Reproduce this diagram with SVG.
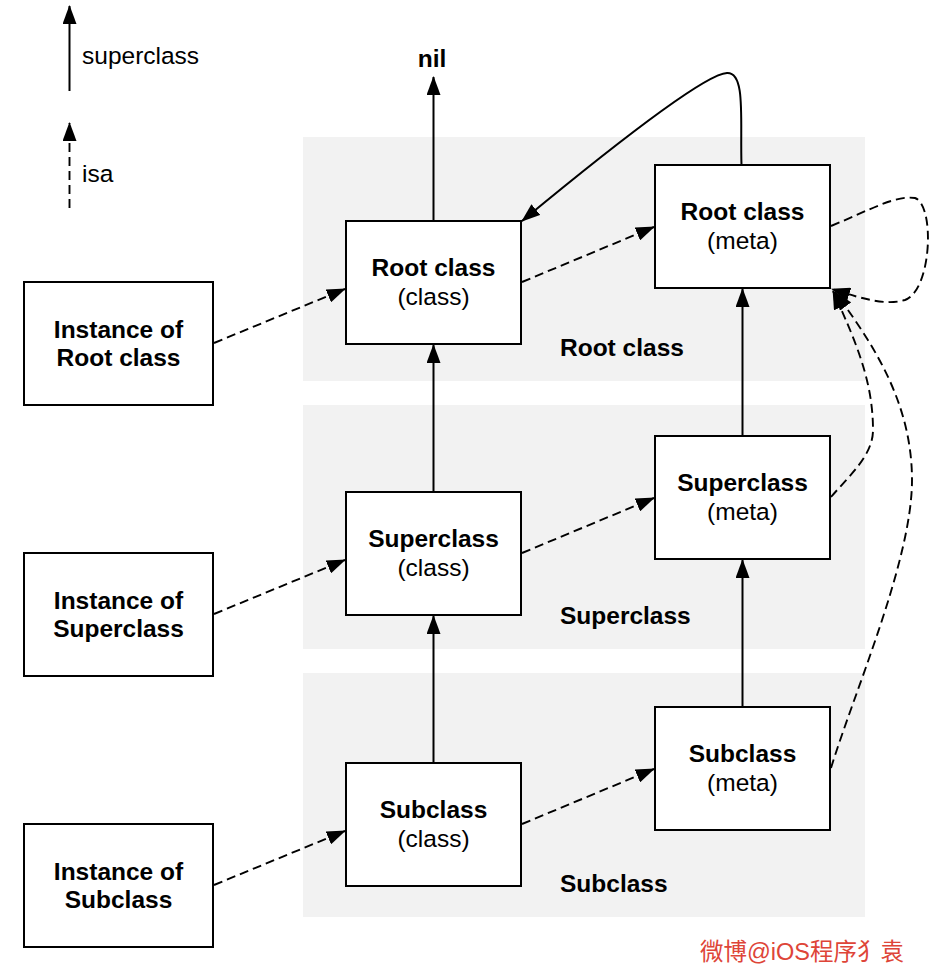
<svg xmlns="http://www.w3.org/2000/svg" width="933" height="977" viewBox="0 0 933 977">
<defs>
<marker id="ah" markerUnits="userSpaceOnUse" markerWidth="19" markerHeight="14" refX="18" refY="7" orient="auto" viewBox="0 0 19 14">
<path d="M0,0 L19,7 L0,14 z" fill="#000"/>
</marker>
</defs>
<style>
.panel{fill:#f2f2f2;}
.box{fill:#fff;stroke:#000;stroke-width:2;}
.b{font-family:"Liberation Sans",Arial,sans-serif;font-weight:bold;font-size:24.5px;fill:#000;}
.r{font-family:"Liberation Sans",Arial,sans-serif;font-size:24.5px;fill:#000;}
.sup{fill:none;stroke:#000;stroke-width:2;marker-end:url(#ah);}
.isa{fill:none;stroke:#000;stroke-width:1.9;stroke-dasharray:9,5;marker-end:url(#ah);}
.wm{font-family:"Liberation Sans","Noto Sans CJK SC",sans-serif;font-size:23.5px;fill:#de4538;}
</style>
<rect width="933" height="977" fill="#fff"/>
<g id="panels">
<rect class="panel" x="303" y="137" width="562" height="244"/>
<rect class="panel" x="303" y="405" width="562" height="244"/>
<rect class="panel" x="303" y="673" width="562" height="244"/>
<text class="b" x="560" y="356">Root class</text>
<text class="b" x="560" y="624">Superclass</text>
<text class="b" x="560" y="892">Subclass</text>
</g>
<g id="legend">
<line class="sup" x1="69.5" y1="91" x2="69.5" y2="6"/>
<text class="r" x="82" y="64">superclass</text>
<line class="isa" x1="69.5" y1="208" x2="69.5" y2="123"/>
<text class="r" x="82" y="182">isa</text>
</g>
<g id="nil"><text class="b" x="432" y="67" text-anchor="middle">nil</text></g>
<g id="inst-root">
<rect class="box" x="24" y="282" width="189" height="123"/>
<text class="b" x="118.5" y="337.5" text-anchor="middle">Instance of</text>
<text class="b" x="118.5" y="365.5" text-anchor="middle">Root class</text>
</g>
<g id="inst-super">
<rect class="box" x="24" y="553" width="189" height="123"/>
<text class="b" x="118.5" y="608.5" text-anchor="middle">Instance of</text>
<text class="b" x="118.5" y="636.5" text-anchor="middle">Superclass</text>
</g>
<g id="inst-sub">
<rect class="box" x="24" y="824" width="189" height="123"/>
<text class="b" x="118.5" y="879.5" text-anchor="middle">Instance of</text>
<text class="b" x="118.5" y="907.5" text-anchor="middle">Subclass</text>
</g>
<g id="root-class">
<rect class="box" x="346" y="221" width="175" height="123"/>
<text class="b" x="433.5" y="276" text-anchor="middle">Root class</text>
<text class="r" x="433.5" y="305" text-anchor="middle">(class)</text>
</g>
<g id="super-class">
<rect class="box" x="346" y="492" width="175" height="123"/>
<text class="b" x="433.5" y="547" text-anchor="middle">Superclass</text>
<text class="r" x="433.5" y="576" text-anchor="middle">(class)</text>
</g>
<g id="sub-class">
<rect class="box" x="346" y="763" width="175" height="123"/>
<text class="b" x="433.5" y="818" text-anchor="middle">Subclass</text>
<text class="r" x="433.5" y="847" text-anchor="middle">(class)</text>
</g>
<g id="root-meta">
<rect class="box" x="655" y="165" width="175" height="123"/>
<text class="b" x="742.5" y="220" text-anchor="middle">Root class</text>
<text class="r" x="742.5" y="249" text-anchor="middle">(meta)</text>
</g>
<g id="super-meta">
<rect class="box" x="655" y="436" width="175" height="123"/>
<text class="b" x="742.5" y="491" text-anchor="middle">Superclass</text>
<text class="r" x="742.5" y="520" text-anchor="middle">(meta)</text>
</g>
<g id="sub-meta">
<rect class="box" x="655" y="707" width="175" height="123"/>
<text class="b" x="742.5" y="762" text-anchor="middle">Subclass</text>
<text class="r" x="742.5" y="791" text-anchor="middle">(meta)</text>
</g>
<g id="connectors">
<line class="sup" x1="433.5" y1="220" x2="433.5" y2="77"/>
<line class="sup" x1="433.5" y1="491" x2="433.5" y2="345"/>
<line class="sup" x1="433.5" y1="762" x2="433.5" y2="616"/>
<line class="sup" x1="742.5" y1="435" x2="742.5" y2="289"/>
<line class="sup" x1="742.5" y1="706" x2="742.5" y2="560"/>
<path class="sup" d="M741.5,165 C740,120 746,72 727,73 C705,74 620,140 522,221"/>
<line class="isa" x1="214" y1="343" x2="345" y2="289"/>
<line class="isa" x1="214" y1="614" x2="345" y2="560"/>
<line class="isa" x1="214" y1="885" x2="345" y2="831"/>
<line class="isa" x1="522" y1="282" x2="654" y2="227"/>
<line class="isa" x1="522" y1="553" x2="654" y2="498"/>
<line class="isa" x1="522" y1="824" x2="654" y2="769"/>
<path class="isa" d="M831,226 C870,210 895,195 915,198 C935,205 932,290 905,300 C885,306 860,298 832,289"/>
<path class="isa" d="M831,497 C850,475 873,455 873,430 C873,380 855,340 833,291"/>
<path class="isa" d="M831,768 C855,690 912,560 912,480 C912,400 870,340 835,292"/>
</g>
<g id="watermark"><text class="wm" x="700" y="960">微博@iOS程序犭袁</text></g>
</svg>
